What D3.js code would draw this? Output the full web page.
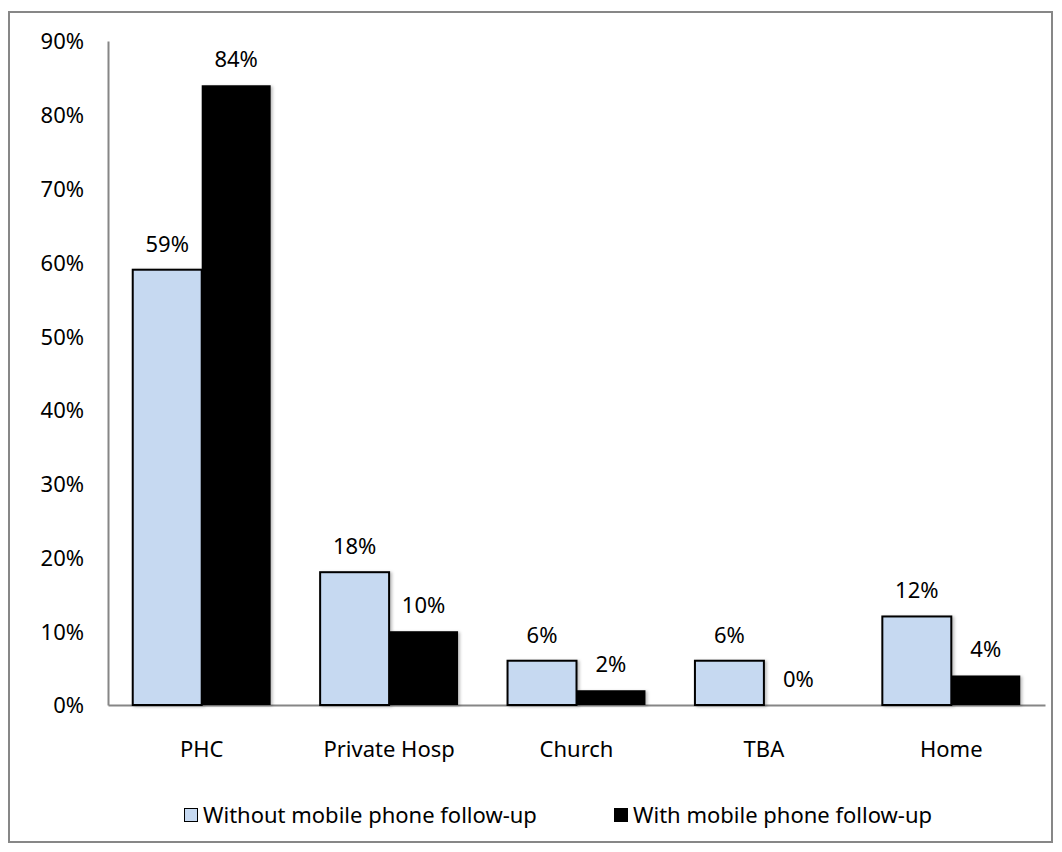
<!DOCTYPE html>
<html>
<head>
<meta charset="utf-8">
<script src="https://cdn.jsdelivr.net/npm/d3@7"></script>
<style>
  html, body { margin: 0; padding: 0; background: #fff; }
  svg { display: block; }
  text { font-family: "Noto Sans", "Open Sans", sans-serif; fill: #000; }
</style>
</head>
<body>
<svg id="chart" width="1062" height="852"></svg>
<script>
// Place of delivery, share of women in each group
const categories = ["PHC", "Private Hosp", "Church", "TBA", "Home"];
const withoutFollowUp = [59, 18, 6, 6, 12];
const withFollowUp = [84, 10, 2, 0, 4];
const seriesNames = ["Without mobile phone follow-up", "With mobile phone follow-up"];
const yTicks = [0, 10, 20, 30, 40, 50, 60, 70, 80, 90];

const svg = d3.select("#chart");
const plot = { left: 108, right: 1045, top: 41, bottom: 705 };
const fontSize = 22;

// soft shadow under the bars
const defs = svg.append("defs");
const f = defs.append("filter").attr("id", "shadow")
  .attr("x", "-10%").attr("y", "-10%").attr("width", "130%").attr("height", "130%");
f.append("feDropShadow").attr("dx", 2).attr("dy", 1).attr("stdDeviation", 1.5)
  .attr("flood-color", "#000").attr("flood-opacity", 0.25);

// chart frame
svg.append("rect")
  .attr("x", 9).attr("y", 12).attr("width", 1043).attr("height", 830)
  .attr("fill", "#fff").attr("stroke", "#878787").attr("stroke-width", 2);

const y = d3.scaleLinear().domain([0, 90]).range([plot.bottom, plot.top]);
const x0 = d3.scaleBand().domain(categories).range([plot.left, plot.right])
  .paddingInner(0.264).paddingOuter(0.132);
const x1 = d3.scaleBand().domain(seriesNames).range([0, x0.bandwidth()]);

const colors = ["#c6d9f1", "#000000"];

// y axis: labels only, with a plain gray spine
const yAxis = d3.axisLeft(y).tickValues(yTicks).tickSize(0).tickPadding(24)
  .tickFormat(d => d + "%");
const gy = svg.append("g").attr("transform", `translate(${plot.left},0)`).call(yAxis);
gy.select(".domain").attr("stroke", "#868686").attr("stroke-width", 2);
gy.selectAll("text").attr("font-size", fontSize).attr("font-family", null)
  .attr("dy", "0.36em");

// x axis: category labels, gray baseline
const xAxis = d3.axisBottom(x0).tickSize(0).tickPadding(36);
const gx = svg.append("g").attr("transform", `translate(0,${plot.bottom})`).call(xAxis);
gx.select(".domain").attr("stroke", "#868686").attr("stroke-width", 2);
gx.selectAll("text").attr("font-size", fontSize).attr("font-family", null);

const rows = categories.map((c, i) => ({ cat: c, vals: [withoutFollowUp[i], withFollowUp[i]] }));

const groups = svg.append("g").selectAll("g").data(rows).join("g")
  .attr("transform", d => `translate(${x0(d.cat)},0)`);

groups.selectAll("rect").data(d => d.vals.map((v, k) => ({ v, k }))).join("rect")
  .attr("x", d => x1(seriesNames[d.k]))
  .attr("y", d => y(d.v))
  .attr("width", x1.bandwidth())
  .attr("height", d => y(0) - y(d.v))
  .attr("fill", d => colors[d.k])
  .attr("stroke", "#000")
  .attr("stroke-width", d => d.k === 0 ? 2 : 0)
  .attr("filter", "url(#shadow)");

groups.selectAll("text.val").data(d => d.vals.map((v, k) => ({ v, k }))).join("text")
  .attr("class", "val")
  .attr("x", d => x1(seriesNames[d.k]) + x1.bandwidth() / 2)
  .attr("y", d => y(d.v) - 18)
  .attr("text-anchor", "middle")
  .attr("font-size", fontSize)
  .text(d => d.v + "%");

// legend
const legendX = [184, 614];
const lg = svg.append("g").selectAll("g").data(seriesNames).join("g")
  .attr("transform", (d, i) => `translate(${legendX[i]},808)`);
lg.append("rect").attr("x", 0.5).attr("y", 0.5).attr("width", 13).attr("height", 13)
  .attr("fill", (d, i) => colors[i]).attr("stroke", "#000").attr("stroke-width", 1);
lg.append("text").attr("x", 19).attr("y", 15).attr("font-size", fontSize).text(d => d);
</script>
</body>
</html>
